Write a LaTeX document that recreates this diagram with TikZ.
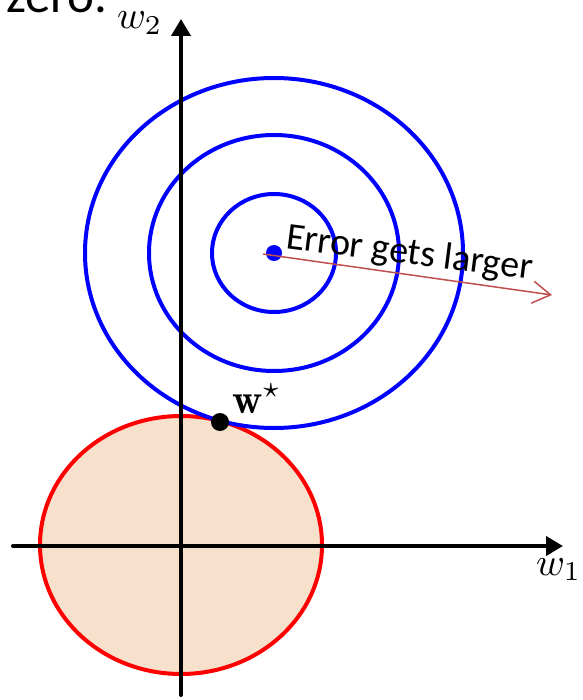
\documentclass[tikz,border=0pt]{standalone}
\usepackage{fontspec}
\setsansfont{Carlito}
\usetikzlibrary{arrows.meta}
\definecolor{peach}{RGB}{247,224,204}
\definecolor{arrowred}{RGB}{192,80,77}
\tikzset{
  axis/.style={line width=4pt, line cap=round, -{Triangle[length=17pt,width=19pt]}},
  contour/.style={line width=4pt, blue},
  lbl/.style={inner sep=0pt, outer sep=0pt},
}
\newcommand{\bigmath}[2]{\scalebox{#1}{\fontsize{10}{12}\selectfont$#2$}}
\begin{document}
\begin{tikzpicture}[x=1pt, y=-1pt]
\useasboundingbox (0,0) rectangle (582,700);
\clip (0,0) rectangle (582,700);
% constraint region
\filldraw[fill=peach, draw=red, line width=4pt] (181,545) ellipse [x radius=141pt, y radius=129pt];
% error contours
\draw[contour] (274,253) ellipse [x radius=189pt, y radius=175pt];
\draw[contour] (274,253) ellipse [x radius=125pt, y radius=118pt];
\draw[contour] (274,253) ellipse [x radius=62pt, y radius=59pt];
% axes
\coordinate (xs) at (13,546);
\coordinate (xe) at (563,546);
\coordinate (ys) at (181,695);
\coordinate (ye) at (181,19);
\draw[axis] (xs) -- (xe);
\draw[axis] (ys) -- (ye);
% points
\fill[blue] (274,253) circle [radius=8pt] coordinate (c);
\fill[black] (220,422) circle [radius=9pt] coordinate (ws);
% arrow
\coordinate (as) at (263,254);
\coordinate (ae) at (552,295);
\draw[arrowred, line width=1.5pt, -{Straight Barb[length=18pt,width=22pt,line width=1.5pt]}] (as) -- (ae);
% labels
\node[lbl, anchor=base west, rotate=-7.3, font=\sffamily\fontsize{38}{40}\selectfont] (err) at (285,248) {Error gets larger};
\node[lbl, anchor=base west, font=\sffamily\fontsize{51}{55}\selectfont] (zero) at (6,13) {zero.};
\node[lbl, anchor=base west] (w2) at (117,29) {\bigmath{3.9}{w_2}};
\node[lbl, anchor=base west] (w1) at (536,575) {\bigmath{3.9}{w_1}};
\node[lbl, anchor=base west] (wstar) at (232,413) {\bigmath{4.2}{\mathbf{w}^{\star}}};
\end{tikzpicture}
\end{document}
